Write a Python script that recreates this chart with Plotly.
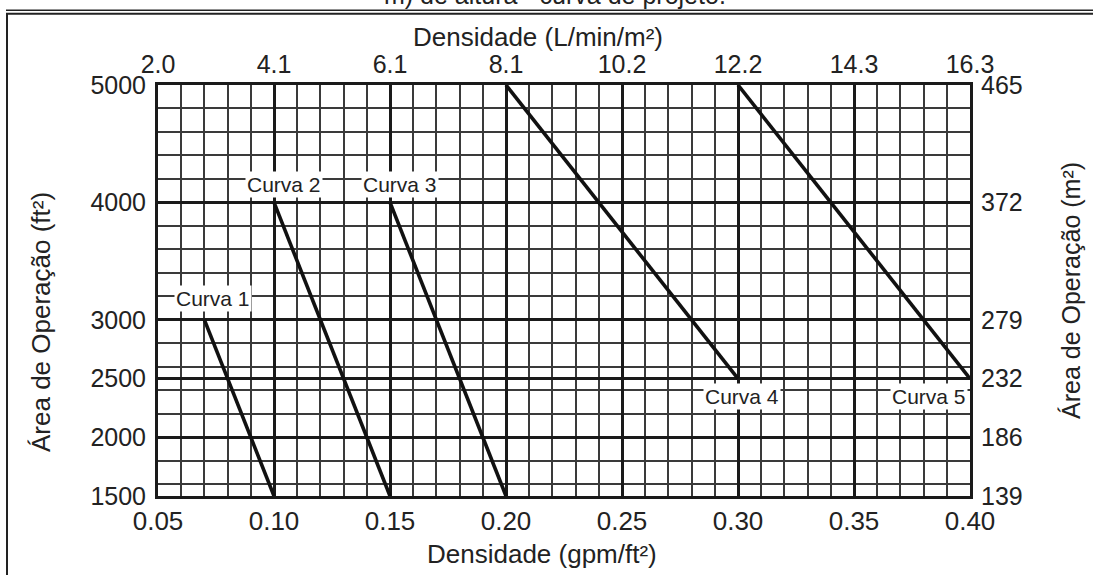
import plotly.graph_objects as go
import numpy as np

# ---- data ----
curve_names = ["Curva 1", "Curva 2", "Curva 3", "Curva 4", "Curva 5"]
curve_x_start = [0.07, 0.10, 0.15, 0.20, 0.30]   # gpm/ft² at upper end
curve_y_start = [3000, 4000, 4000, 5000, 5000]   # ft² at upper end
curve_x_end = [0.10, 0.15, 0.20, 0.30, 0.40]     # gpm/ft² at lower end
curve_y_end = [1500, 1500, 1500, 2500, 2500]     # ft² at lower end

x_ticks = [0.05, 0.10, 0.15, 0.20, 0.25, 0.30, 0.35, 0.40]
x_ticktext = ["0.05", "0.10", "0.15", "0.20", "0.25", "0.30", "0.35", "0.40"]
x_top_ticktext = ["2.0", "4.1", "6.1", "8.1", "10.2", "12.2", "14.3", "16.3"]
y_ticks = [1500, 2000, 2500, 3000, 4000, 5000]
y_ticktext = ["1500", "2000", "2500", "3000", "4000", "5000"]
y_right_ticktext = ["139", "186", "232", "279", "372", "465"]

FONT = "Liberation Sans, Arial, sans-serif"
TXT = "#222222"
W, H = 1093, 575
ML, MR, MT, MB = 158, 123, 85, 79
PW, PH = W - ML - MR, H - MT - MB


def px_to_paper_x(px):
    return (px - ML) / PW


def px_to_paper_y(py):
    return (H - MB - py) / PH


fig = go.Figure()
for i in range(len(curve_names)):
    fig.add_trace(go.Scatter(
        x=[curve_x_start[i], curve_x_end[i]],
        y=[curve_y_start[i], curve_y_end[i]],
        mode="lines", line=dict(color="#111111", width=3.6),
        showlegend=False, hoverinfo="skip"))

# invisible trace to anchor the secondary axes
fig.add_trace(go.Scatter(x=[x_ticks[0]], y=[y_ticks[0]], xaxis="x2", yaxis="y2",
                         mode="markers", marker=dict(opacity=0), showlegend=False,
                         hoverinfo="skip"))

# curve labels, positioned relative to the curve end points
label_specs = [
    (curve_x_start[0], curve_y_start[0], 9, 21, "center"),
    (curve_x_start[1], curve_y_start[1], 10, 18, "center"),
    (curve_x_start[2], curve_y_start[2], 10, 18, "center"),
    (curve_x_end[3], curve_y_end[3], 4, -18, "center"),
    (curve_x_end[4], curve_y_end[4], -2, -18, "right"),
]
annotations = []
for name, (lx, ly, xs, ys, xa) in zip(curve_names, label_specs):
    annotations.append(dict(
        x=lx, y=ly, xref="x", yref="y", text=name, showarrow=False,
        xshift=xs, yshift=ys, xanchor=xa, yanchor="middle",
        bgcolor="white", borderpad=1,
        font=dict(family=FONT, size=21, color=TXT)))

# axis titles
annotations += [
    dict(text="Densidade (gpm/ft²)", xref="paper", yref="paper",
         x=px_to_paper_x(542), y=px_to_paper_y(554), showarrow=False,
         xanchor="center", yanchor="middle",
         font=dict(family=FONT, size=26, color=TXT)),
    dict(text="Densidade (L/min/m²)", xref="paper", yref="paper",
         x=px_to_paper_x(538), y=px_to_paper_y(37), showarrow=False,
         xanchor="center", yanchor="middle",
         font=dict(family=FONT, size=26, color=TXT)),
    dict(text="Área de Operação (ft²)", xref="paper", yref="paper",
         x=px_to_paper_x(41), y=px_to_paper_y(322), showarrow=False,
         textangle=-90, xanchor="center", yanchor="middle",
         font=dict(family=FONT, size=26, color=TXT)),
    dict(text="Área de Operação (m²)", xref="paper", yref="paper",
         x=px_to_paper_x(1071), y=px_to_paper_y(291), showarrow=False,
         textangle=-90, xanchor="center", yanchor="middle",
         font=dict(family=FONT, size=25, color=TXT)),
    dict(text="m) de altura - curva de projeto.", xref="paper", yref="paper",
         x=px_to_paper_x(555), y=px_to_paper_y(11), showarrow=False,
         xanchor="center", yanchor="bottom",
         font=dict(family=FONT, size=25, color=TXT)),
]

# outer frame (double top line and left line)
shapes = [
    dict(type="line", xref="paper", yref="paper",
         x0=px_to_paper_x(6), x1=px_to_paper_x(1100),
         y0=px_to_paper_y(10.3), y1=px_to_paper_y(10.3),
         line=dict(color="#222", width=1.5)),
    dict(type="line", xref="paper", yref="paper",
         x0=px_to_paper_x(6), x1=px_to_paper_x(1100),
         y0=px_to_paper_y(13.7), y1=px_to_paper_y(13.7),
         line=dict(color="#222", width=2)),
    dict(type="line", xref="paper", yref="paper",
         x0=px_to_paper_x(7), x1=px_to_paper_x(7),
         y0=px_to_paper_y(13), y1=px_to_paper_y(580),
         line=dict(color="#222", width=2)),
]

xr = [x_ticks[0], x_ticks[-1]]
yr = [y_ticks[0], y_ticks[-1]]

fig.update_layout(
    width=W, height=H,
    margin=dict(l=ML, r=MR, t=MT, b=MB, autoexpand=False),
    paper_bgcolor="white", plot_bgcolor="white",
    showlegend=False,
    font=dict(family=FONT, color=TXT),
    annotations=annotations, shapes=shapes,
    xaxis=dict(
        range=xr, tickmode="array", tickvals=x_ticks, ticktext=x_ticktext,
        showgrid=True, gridcolor="#1a1a1a", gridwidth=2.8,
        minor=dict(tickmode="linear", tick0=0.05, dtick=0.01, showgrid=True,
                   gridcolor="#3a3a3a", gridwidth=1.6),
        showline=True, linecolor="#1a1a1a", linewidth=3, mirror=True,
        ticks="", ticklabelstandoff=0, zeroline=False,
        tickfont=dict(family=FONT, size=26, color=TXT), fixedrange=True),
    yaxis=dict(
        range=yr, tickmode="array", tickvals=y_ticks, ticktext=y_ticktext,
        showgrid=True, gridcolor="#1a1a1a", gridwidth=2.8,
        minor=dict(tickmode="linear", tick0=1600, dtick=200, showgrid=True,
                   gridcolor="#3a3a3a", gridwidth=1.6),
        showline=True, linecolor="#1a1a1a", linewidth=3, mirror=True,
        ticks="", ticklabelstandoff=4, zeroline=False,
        tickfont=dict(family=FONT, size=25, color=TXT), fixedrange=True),
    xaxis2=dict(
        overlaying="x", side="top", anchor="y", range=xr, matches="x",
        tickmode="array", tickvals=x_ticks, ticktext=x_top_ticktext,
        showgrid=False, showline=False, zeroline=False, ticks="",
        ticklabelstandoff=6,
        tickfont=dict(family=FONT, size=25, color=TXT)),
    yaxis2=dict(
        overlaying="y", side="right", anchor="x", range=yr, matches="y",
        tickmode="array", tickvals=y_ticks, ticktext=y_right_ticktext,
        showgrid=False, showline=False, zeroline=False, ticks="",
        ticklabelstandoff=10,
        tickfont=dict(family=FONT, size=25, color=TXT)),
)

fig.write_html("out.html",
               config={"displayModeBar": False},
               post_script="document.body.style.margin='0';"
                           "document.body.style.padding='0';")
